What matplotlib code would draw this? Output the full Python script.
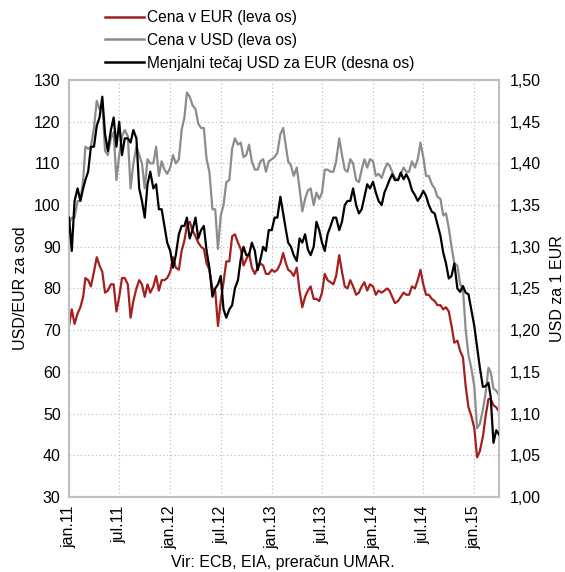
import matplotlib
matplotlib.use('Agg')
import matplotlib.pyplot as plt
import matplotlib.dates as mdates
import pandas as pd
from matplotlib.lines import Line2D
from matplotlib.ticker import FuncFormatter, MultipleLocator

plt.rcParams['font.family'] = ['Liberation Sans Narrow', 'Liberation Sans', 'DejaVu Sans']

# sampling dates: 1st, 11th, 21st of each month, Jan 2011 - Mar 2015
dates = [pd.Timestamp(y, m, d) for y in range(2011, 2016) for m in range(1, 13)
         for d in (1, 11, 21) if (y < 2015 or m <= 3)] + [pd.Timestamp(2015, 3, 31)]

# Brent price in USD per barrel (left axis)
usd = [95.5, 97, 97, 101, 101, 106, 114, 113.5, 114, 118.5, 125, 123,
       124.5, 113, 112, 116, 117.5, 106, 112, 116.5, 118, 116.5, 104, 110,
       114, 112, 110, 104, 111, 110, 110, 114, 107, 110.5, 108.5, 107.5,
       109, 112, 110, 111, 118, 121, 127, 126, 124, 123, 119.5, 118.5,
       118.5, 111, 108, 99, 99, 89.5, 97.5, 100, 105.5, 106, 113.5, 116,
       114.5, 115, 111.5, 112, 114.5, 110.5, 108.5, 108.5, 110.5, 111, 108, 110.5,
       111, 111.5, 112.5, 117, 118.5, 114, 110.5, 109.5, 107, 109, 104, 98.5,
       101.5, 103.5, 104, 100, 103, 101.5, 103, 108.5, 108.5, 108, 108, 110.5,
       116, 112, 108.5, 108, 111, 110, 106, 105.5, 108.5, 111, 109, 111,
       110.5, 107, 107.5, 106.5, 108.5, 110, 109.5, 108, 106.5, 106, 107.5, 109,
       108, 108, 110.5, 109, 111, 115, 111.5, 107, 107, 105, 104, 102,
       101.5, 97.5, 98, 94.5, 90, 86, 85.5, 81, 80, 70, 64, 61,
       56.5, 46.5, 47.5, 51, 55, 61, 60, 56, 55.5, 54.5]

# Brent price in EUR per barrel (left axis)
eur = [71, 75, 71.5, 74, 75.5, 78, 82.5, 82, 80.5, 84, 87.5, 85.5,
       84, 79, 79.5, 81, 81, 74.5, 78, 82.5, 82.5, 81, 73, 77,
       80, 82, 81, 78, 81, 79, 80.5, 83, 79.5, 82, 82, 82.5,
       84, 87.5, 85, 84.5, 89, 91.5, 95, 96, 94, 92.5, 91, 90,
       89.5, 86, 84.5, 80, 79.5, 71, 77, 81.5, 86.5, 86.5, 92.5, 93,
       91, 89.5, 85.5, 87, 88.5, 85, 83.5, 85, 86, 85.5, 83.5, 83.5,
       84.5, 84, 84.5, 86, 88.5, 86, 84.5, 84, 83, 85, 79.5, 75.5,
       78, 79.5, 80.5, 77.5, 77.5, 77, 79, 83.5, 82, 81.5, 81, 83,
       88, 84, 80.5, 80, 82, 80.5, 78.5, 79, 80.5, 81.5, 79.5, 81,
       80.5, 78.5, 79.5, 79, 79.5, 80, 79.5, 78, 76.5, 77, 78, 79,
       78.5, 78.5, 80.5, 80, 82, 84.5, 81, 78.5, 78.5, 77.5, 77, 76,
       76, 75, 75.5, 74.5, 71, 67, 67.5, 65, 63.5, 56.5, 51.5, 49.5,
       46.5, 39.5, 41, 44.5, 49.5, 53.5, 53.5, 52, 51.5, 50.5]

# USD per 1 EUR (right axis)
fx = [1.335, 1.295, 1.355, 1.37, 1.355, 1.37, 1.38, 1.39, 1.42, 1.42, 1.445, 1.455,
      1.48, 1.435, 1.415, 1.44, 1.455, 1.42, 1.45, 1.41, 1.43, 1.43, 1.425, 1.44,
      1.43, 1.37, 1.355, 1.335, 1.375, 1.39, 1.37, 1.375, 1.345, 1.345, 1.325, 1.305,
      1.295, 1.275, 1.29, 1.315, 1.325, 1.325, 1.335, 1.31, 1.32, 1.335, 1.31, 1.32,
      1.325, 1.295, 1.275, 1.24, 1.25, 1.255, 1.265, 1.225, 1.215, 1.225, 1.23, 1.25,
      1.26, 1.285, 1.30, 1.29, 1.29, 1.305, 1.295, 1.272, 1.285, 1.30, 1.295, 1.32,
      1.32, 1.335, 1.335, 1.36, 1.34, 1.32, 1.305, 1.30, 1.29, 1.283, 1.31, 1.305,
      1.315, 1.297, 1.29, 1.30, 1.33, 1.32, 1.305, 1.295, 1.315, 1.325, 1.335, 1.335,
      1.32, 1.33, 1.35, 1.355, 1.355, 1.37, 1.35, 1.34, 1.345, 1.36, 1.375, 1.37,
      1.378, 1.365, 1.355, 1.35, 1.365, 1.373, 1.38, 1.387, 1.38, 1.38, 1.389, 1.381,
      1.387, 1.38, 1.368, 1.362, 1.355, 1.36, 1.367, 1.361, 1.35, 1.342, 1.34, 1.327,
      1.313, 1.293, 1.28, 1.262, 1.265, 1.28, 1.25, 1.246, 1.253, 1.245, 1.243, 1.225,
      1.205, 1.18, 1.155, 1.132, 1.133, 1.137, 1.12, 1.065, 1.08, 1.075]

tick_dates = [pd.Timestamp(y, m, 1) for y in range(2011, 2016) for m in (1, 7)
              if not (y == 2015 and m == 7)]
tick_labels = [('jan.' if d.month == 1 else 'jul.') + str(d.year)[2:] for d in tick_dates]

left_ticks = list(range(30, 131, 10))
right_ticks = [1.00, 1.05, 1.10, 1.15, 1.20, 1.25, 1.30, 1.35, 1.40, 1.45, 1.50]

labels = ['Cena v EUR (leva os)', 'Cena v USD (leva os)', 'Menjalni tečaj USD za EUR (desna os)']
colors = ['#a3201f', '#8c8c8c', '#000000']

fig = plt.figure(figsize=(5.65, 5.72), dpi=100)
ax = fig.add_axes([69 / 565, 1 - 497 / 572, 430 / 565, 417 / 572])
ax.plot(dates, eur, color=colors[0], lw=1.6, zorder=3)
ax.plot(dates, usd, color=colors[1], lw=1.6, zorder=3)
ax.set_ylim(30, 130)
ax.set_yticks(left_ticks)
ax.set_xlim(pd.Timestamp(2011, 1, 1), pd.Timestamp(2015, 3, 31))
ax.set_xticks(tick_dates)
ax.set_xticklabels(tick_labels, rotation=90, fontsize=11.5)
ax.grid(True, color='#c0c0c0', linestyle=(0, (1, 2)), linewidth=0.9)
ax.set_axisbelow(True)
ax.tick_params(axis='both', length=0, labelsize=11.5, pad=6)
ax.set_ylabel('USD/EUR za sod', fontsize=11.5, labelpad=4)

ax2 = ax.twinx()
ax2.plot(dates, fx, color=colors[2], lw=1.6, zorder=4)
ax2.set_ylim(1.0, 1.5)
ax2.set_yticks(right_ticks)
ax2.yaxis.set_major_formatter(FuncFormatter(lambda v, p: f'{v:.2f}'.replace('.', ',')))
ax2.tick_params(axis='both', length=0, labelsize=11.5, pad=8)
ax2.set_ylabel('USD za 1 EUR', fontsize=11.5, rotation=90, labelpad=6)

for a in (ax, ax2):
    for s in a.spines.values():
        s.set_color('#c0c0c0')
        s.set_linewidth(1.5)

handles = [Line2D([], [], color=c, lw=1.8) for c in colors]
fig.legend(handles, labels, loc='upper left', bbox_to_anchor=(105 / 565, 1 - 10 / 572),
           frameon=False, fontsize=11.2, handlelength=2.5, handletextpad=0.2,
           labelspacing=0.5, borderpad=0, borderaxespad=0)

fig.text(283 / 565, 1 - 562 / 572, 'Vir: ECB, EIA, preračun UMAR.', ha='center', va='center',
         fontsize=11.5)

fig.savefig('out.png', dpi=100)
